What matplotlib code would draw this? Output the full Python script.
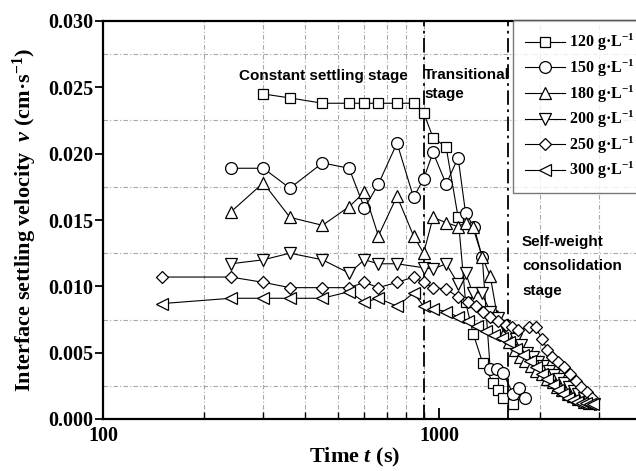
import matplotlib
matplotlib.use("Agg")
import matplotlib.pyplot as plt
from matplotlib.ticker import FixedLocator, NullFormatter, MultipleLocator, FuncFormatter

# === Data ===
t120 = [300, 360, 450, 540, 600, 660, 750, 840, 900, 960, 1050, 1140, 1200, 1265, 1350, 1450, 1500, 1555, 1655]
v120 = [0.0245, 0.0242, 0.0238, 0.0238, 0.0238, 0.0238, 0.0238, 0.0238, 0.0231, 0.0212, 0.0205, 0.0152,
        0.0088, 0.0064, 0.0042, 0.0027, 0.0022, 0.0016, 0.0011]

t150 = [240, 300, 360, 450, 540, 600, 660, 750, 840, 900, 960, 1050, 1140, 1200, 1270, 1345, 1420, 1490,
        1550, 1660, 1730, 1800]
v150 = [0.0189, 0.0189, 0.0174, 0.0193, 0.0189, 0.0159, 0.0177, 0.0208, 0.0167, 0.0181, 0.0201, 0.0177,
        0.0197, 0.0155, 0.0145, 0.0122, 0.0038, 0.0038, 0.0035, 0.0019, 0.0023, 0.0016]

t180 = [240, 300, 360, 450, 540, 600, 660, 750, 840, 900, 960, 1050, 1140, 1200, 1260, 1345, 1420, 1490,
        1560, 1620, 1680, 1740, 1800, 1880, 1950, 2030, 2100, 2180, 2250, 2330, 2420, 2500, 2600, 2700, 2800]
v180 = [0.0156, 0.0178, 0.0152, 0.0146, 0.0160, 0.0171, 0.0138, 0.0168, 0.0138, 0.0125, 0.0152, 0.0148,
        0.0145, 0.0148, 0.0145, 0.0122, 0.0108, 0.0078, 0.0065, 0.0058, 0.0052, 0.0047, 0.0044, 0.0040,
        0.0036, 0.0034, 0.0030, 0.0028, 0.0024, 0.0022, 0.0019, 0.0017, 0.0015, 0.0013, 0.0012]

t200 = [240, 300, 360, 450, 540, 600, 660, 750, 900, 960, 1050, 1140, 1200, 1260, 1340, 1420, 1500, 1560,
        1620, 1700, 1760, 1830, 1900, 1970, 2040, 2120, 2200, 2280, 2360, 2440, 2520, 2600, 2700, 2800, 2900]
v200 = [0.0117, 0.0120, 0.0125, 0.0120, 0.0110, 0.0120, 0.0117, 0.0117, 0.0114, 0.0113, 0.0117, 0.0102,
        0.0110, 0.0095, 0.0095, 0.0081, 0.0076, 0.0070, 0.0064, 0.0060, 0.0056, 0.0050, 0.0047, 0.0043,
        0.0040, 0.0036, 0.0033, 0.0030, 0.0027, 0.0024, 0.0021, 0.0019, 0.0016, 0.0013, 0.0011]

t250 = [150, 240, 300, 360, 450, 540, 600, 660, 750, 840, 900, 960, 1050, 1140, 1220, 1290, 1350, 1420,
        1500, 1580, 1650, 1720, 1850, 1940, 2030, 2100, 2170, 2260, 2360, 2450, 2550, 2650, 2750, 2850]
v250 = [0.0107, 0.0107, 0.0103, 0.0099, 0.0099, 0.0099, 0.0103, 0.0099, 0.0103, 0.0107, 0.0103, 0.0099,
        0.0098, 0.0092, 0.0088, 0.0085, 0.0081, 0.0077, 0.0074, 0.0071, 0.0069, 0.0067, 0.0069, 0.0069,
        0.0060, 0.0052, 0.0047, 0.0043, 0.0039, 0.0034, 0.0029, 0.0024, 0.0020, 0.0016]

t300 = [150, 240, 300, 360, 450, 540, 600, 660, 750, 840, 900, 960, 1050, 1140, 1220, 1300, 1380, 1460,
        1540, 1620, 1700, 1780, 1860, 1940, 2020, 2100, 2180, 2260, 2340, 2420, 2500, 2580, 2660, 2740,
        2820, 2880]
v300 = [0.0087, 0.0091, 0.0091, 0.0091, 0.0091, 0.0096, 0.0088, 0.0091, 0.0085, 0.0095, 0.0085, 0.0083,
        0.0081, 0.0077, 0.0074, 0.0070, 0.0066, 0.0063, 0.0061, 0.0058, 0.0053, 0.0048, 0.0044, 0.0039,
        0.0034, 0.0030, 0.0026, 0.0022, 0.0019, 0.0016, 0.0014, 0.0013, 0.0012, 0.0012, 0.0011, 0.0011]

labels = ["120", "150", "180", "200", "250", "300"]
stage_lines = [900, 1610]

# === Fonts ===
plt.rcParams["font.family"] = "Liberation Serif"
plt.rcParams["font.weight"] = "bold"
plt.rcParams["mathtext.fontset"] = "custom"
plt.rcParams["mathtext.rm"] = "Liberation Serif:bold"
plt.rcParams["mathtext.bf"] = "Liberation Serif:bold"
plt.rcParams["mathtext.it"] = "Liberation Serif:italic:bold"

W, H = 636, 471
fig = plt.figure(figsize=(W / 100, H / 100), dpi=100)
ax = fig.add_axes([103 / W, 1 - 419 / H, (641.3 - 103) / W, (419 - 21) / H])

series = [
    (t120, v120, "s", 7.0),
    (t150, v150, "o", 8.5),
    (t180, v180, "^", 8.5),
    (t200, v200, "v", 8.5),
    (t250, v250, "D", 6.3),
    (t300, v300, "<", 8.5),
]
for (t, v, m, ms), lab in zip(series, labels):
    ax.plot(t, v, color="black", lw=0.8, marker=m, ms=ms, mfc="white", mec="black", mew=0.9,
            label=lab + " g·L$^{-1}$", zorder=3)

for x in stage_lines:
    ax.axvline(x, color="black", lw=1.3, linestyle=(0, (8, 2.5, 1.5, 2.5)), zorder=2)

ax.set_xscale("log")
ax.set_xlim(100, 4000)
ax.set_ylim(0, 0.030)

ax.xaxis.set_major_locator(FixedLocator([100, 1000]))
ax.xaxis.set_major_formatter(FuncFormatter(lambda x, p: f"{x:.0f}"))
ax.xaxis.set_minor_locator(FixedLocator([200, 300, 400, 500, 600, 700, 800, 900, 2000, 3000]))
ax.xaxis.set_minor_formatter(NullFormatter())
ax.yaxis.set_major_locator(MultipleLocator(0.005))
ax.yaxis.set_minor_locator(MultipleLocator(0.0025))
ax.yaxis.set_major_formatter(FuncFormatter(lambda y, p: f"{y:.3f}"))

ax.tick_params(axis="x", which="major", direction="in", length=8, width=1.3, labelsize=14.5, pad=5)
ax.tick_params(axis="x", which="minor", direction="in", length=5, width=1.0)
ax.tick_params(axis="y", which="major", direction="out", length=6, width=1.3, labelsize=14.5, pad=1)
ax.tick_params(axis="y", which="minor", length=0)

ax.grid(which="minor", color="#a8a8a8", linestyle=(0, (4, 2, 1, 2)), linewidth=0.8, zorder=1)
for side in ["left", "bottom", "top"]:
    ax.spines[side].set_linewidth(1.6)

fig.text(355 / W, 1 - 457 / H, "Time $t$ (s)", fontsize=16, ha="center", va="center")
fig.text(25 / W, 1 - 220 / H, "Interface settling velocity  $v$ (cm·s$^{-1}$)",
         fontsize=16, rotation=90, ha="center", va="center")

sans = dict(family="Liberation Sans", weight="bold", fontsize=11, va="center", ha="left")
fig.text(239 / W, 1 - 76 / H, "Constant settling stage", **sans)
fig.text(424 / W, 1 - 75 / H, "Transitional", **sans)
fig.text(424 / W, 1 - 94 / H, "stage", **sans)
fig.text(522 / W, 1 - 242 / H, "Self-weight", **sans)
fig.text(522 / W, 1 - 266 / H, "consolidation", **sans)
fig.text(522 / W, 1 - 291 / H, "stage", **sans)

leg = fig.legend(loc="upper left", bbox_to_anchor=(512.7 / W, 1 - 20 / H), fontsize=11.5,
                 handlelength=2.5, handletextpad=0.25, borderpad=0.75, labelspacing=0.27,
                 frameon=True, fancybox=False, borderaxespad=0)
leg.get_frame().set_edgecolor("#555555")
leg.get_frame().set_linewidth(1.0)

fig.savefig("out.png", dpi=100)
